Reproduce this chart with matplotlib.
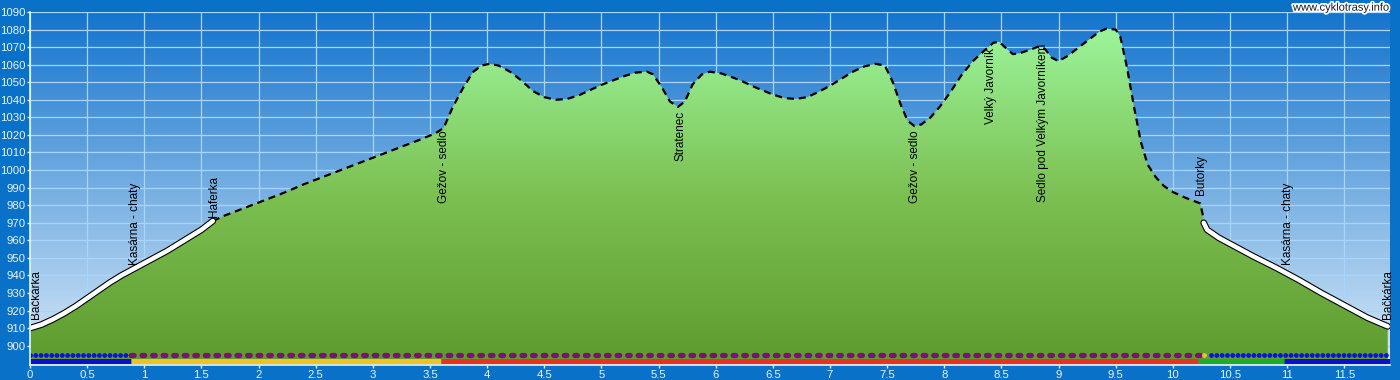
import matplotlib
matplotlib.use('Agg')
import matplotlib.pyplot as plt
import matplotlib.patheffects as pe
from matplotlib.colors import LinearSegmentedColormap
from matplotlib.patches import Polygon
import numpy as np

plt.rcParams['font.family'] = ['Liberation Sans', 'DejaVu Sans']

# Profile data (km, elevation m)
km = [0.00, 0.10, 0.20, 0.30, 0.40, 0.50, 0.60, 0.70, 0.80, 0.90,
      1.00, 1.10, 1.20, 1.30, 1.40, 1.50, 1.60, 1.70, 1.80, 1.90,
      2.00, 2.20, 2.40, 2.60, 2.80, 3.00, 3.20, 3.40, 3.55, 3.62,
      3.70, 3.80, 3.88, 3.95, 4.02, 4.10, 4.20, 4.30, 4.40, 4.50,
      4.60, 4.70, 4.80, 4.90, 5.00, 5.10, 5.20, 5.30, 5.40, 5.45,
      5.52, 5.60, 5.67, 5.73, 5.80, 5.88, 5.95, 6.05, 6.20, 6.35,
      6.50, 6.60, 6.70, 6.80, 6.90, 7.00, 7.10, 7.20, 7.30, 7.40,
      7.48, 7.55, 7.62, 7.68, 7.74, 7.80, 7.88, 7.96, 8.05, 8.15,
      8.25, 8.35, 8.43, 8.48, 8.53, 8.60, 8.66, 8.75, 8.83, 8.88,
      8.94, 9.00, 9.08, 9.18, 9.28, 9.36, 9.42, 9.50, 9.54, 9.60,
      9.66, 9.72, 9.78, 9.85, 9.92, 10.00, 10.10, 10.20, 10.24, 10.26,
      10.27, 10.30, 10.40, 10.50, 10.70, 10.90, 11.10, 11.30, 11.50, 11.70,
      11.88]
elev = [910, 912, 915, 918.5, 922.5, 927, 931.5, 936, 940, 943.5,
        947, 950.5, 954, 958, 962, 966, 971, 974, 976.5, 979,
        981.5, 986.5, 992, 997, 1002, 1007, 1012, 1017, 1021, 1024,
        1036, 1048, 1056, 1059.5, 1060.5, 1059.5, 1056, 1051, 1045, 1041.5,
        1040, 1040.5, 1042.5, 1045.5, 1048.5, 1051, 1053.5, 1055.5, 1056, 1054.5,
        1048, 1039, 1036, 1039, 1049, 1054.5, 1056, 1055, 1051.5, 1047,
        1043, 1041, 1040.5, 1041.5, 1044.5, 1048, 1052, 1056, 1059, 1060.5,
        1059.5, 1050, 1037, 1028, 1025, 1026, 1030, 1036, 1044, 1054,
        1062, 1068, 1072.5, 1073, 1070, 1066, 1066.5, 1068.5, 1070.5, 1069,
        1064, 1062, 1065, 1070, 1075, 1079, 1080.5, 1080, 1076, 1058,
        1036, 1016, 1003, 996, 991, 987.5, 984.5, 982, 981, 975,
        970, 966, 961.5, 958, 951, 944.5, 937.5, 930, 923, 916,
        911]

# dashed (unpaved) part of the route
dash_from, dash_to = 1.60, 10.27

# waypoints: name, km, elevation of text bottom
wp_names = ['Bačkárka', 'Kasárna - chaty', 'Haferka', 'Gežov - sedlo', 'Stratenec',
            'Gežov - sedlo', 'Velký Javorník', 'Sedlo pod Velkým Javorníkem', 'Butorky',
            'Kasárna - chaty', 'Bačkárka']
wp_km = [0.05, 0.92, 1.61, 3.62, 5.69, 7.74, 8.41, 8.86, 10.25, 11.01, 11.88]
wp_y = [915, 946, 973, 981, 1005, 981, 1026, 982, 986, 946, 915]

# surface strips
dot_segs = [(0.0, 0.88, '#0a14d8', 'dot'), (0.88, 10.24, '#7a1078', 'dash'),
            (10.27, 10.29, '#f0c030', 'dot'), (10.33, 11.88, '#0a14d8', 'dot')]
bar_segs = [(0.0, 0.88, '#0a10d0'), (0.88, 3.60, '#f2c028'), (3.60, 10.22, '#e83222'),
            (10.22, 10.97, '#18b028'), (10.97, 11.90, '#0a10d0')]

x_ticks = np.arange(0, 12, 0.5)
y_ticks = np.arange(900, 1100, 10)
xmin, xmax, ymin, ymax = 0, 11.9, 889, 1090

fig = plt.figure(figsize=(14, 3.8), dpi=100, facecolor='#0a71c9')
ax = fig.add_axes([30/1400, 15/380, 1360/1400, 353/380])
ax.set_xlim(xmin, xmax)
ax.set_ylim(ymin, ymax)

# sky gradient
sky = LinearSegmentedColormap.from_list('sky', ['#d8e9f7', '#1474cd'])
grad = np.linspace(0, 1, 256).reshape(-1, 1)
ax.imshow(grad, cmap=sky, origin='lower', aspect='auto',
          extent=[xmin, xmax, ymin, ymax], zorder=0)

ax.set_axisbelow(True)
ax.set_xticks(x_ticks)
ax.set_yticks(y_ticks)
ax.set_xticklabels(['%g' % t for t in x_ticks])
ax.grid(True, color='#a6d6ff', lw=0.9)

# green fill with gradient
poly_xy = [(km[0], ymin)] + list(zip(km, elev)) + [(km[-1], ymin)]
poly = Polygon(poly_xy, closed=True, facecolor='none', edgecolor='none')
ax.add_patch(poly)
grass = LinearSegmentedColormap.from_list('grass', ['#5e9a2e', '#7cc052', '#9cf59c'])
img = ax.imshow(grad, cmap=grass, origin='lower', aspect='auto',
                extent=[xmin, xmax, ymin, 1082], zorder=1)
img.set_clip_path(poly)

kma = np.array(km)
ela = np.array(elev)
m1 = kma <= dash_from
m2 = (kma >= dash_from) & (kma <= dash_to)
m3 = kma >= dash_to
for m in (m1, m3):
    ax.plot(kma[m], ela[m], color='black', lw=4.8, solid_capstyle='round', zorder=3)
    ax.plot(kma[m], ela[m], color='white', lw=3.2, solid_capstyle='round', zorder=4)
ax.plot(kma[m2], ela[m2], color='black', lw=1.6, ls=(0, (3.2, 2.2)), zorder=3)

# waypoint labels
for name, x, y in zip(wp_names, wp_km, wp_y):
    ax.text(x, y, name, rotation=90, ha='center', va='bottom', fontsize=8.5,
            color='black', zorder=5)

# surface strips
tr = ax.get_xaxis_transform()
for x0, x1, c, kind in dot_segs:
    if kind == 'dot':
        ax.plot([x0, x1], [0.028, 0.028], transform=tr, color=c, lw=3.5,
                ls=(0, (0.01, 1.08)), dash_capstyle='round', zorder=6)
    else:
        ax.plot([x0, x1], [0.028, 0.028], transform=tr, color=c, lw=3.8,
                ls=(0, (0.5, 1.5)), dash_capstyle='round', zorder=6)
for x0, x1, c in bar_segs:
    ax.plot([x0, x1], [0.012, 0.012], transform=tr, color=c, lw=3.6,
            solid_capstyle='butt', zorder=6)

for s in ('top', 'right'):
    ax.spines[s].set_visible(False)
for s in ('left', 'bottom'):
    ax.spines[s].set_color('#e8f4ff')
    ax.spines[s].set_linewidth(1.2)
    ax.spines[s].set_zorder(7)
ax.tick_params(colors='#e8f4ff', labelsize=8.2, length=2.5, width=1, pad=1)

fig.text(0.9925, 0.993, 'www.cyklotrasy.info', ha='right', va='top', fontsize=8,
         color='#1a1a1a', path_effects=[pe.withStroke(linewidth=2.5, foreground='white')])

fig.savefig('out.png', dpi=100, facecolor=fig.get_facecolor())
